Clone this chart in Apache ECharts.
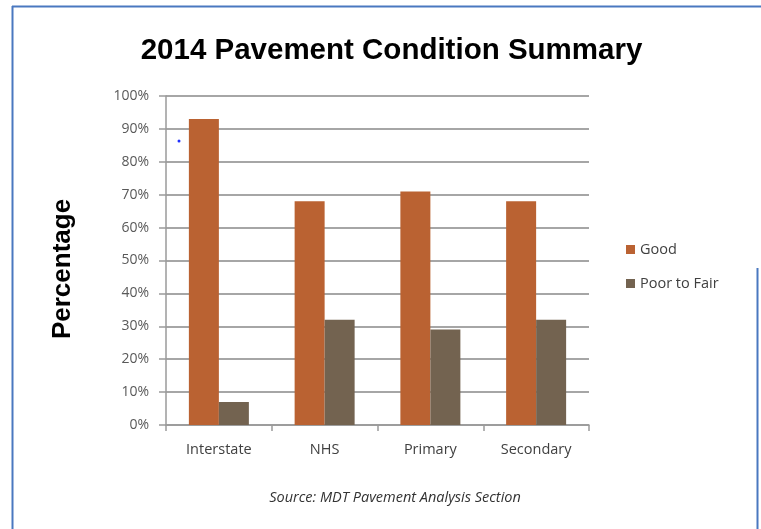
<!DOCTYPE html>
<html>
<head>
<meta charset="utf-8">
<script src="https://cdn.jsdelivr.net/npm/echarts@6/dist/echarts.min.js"></script>
<style>html,body{margin:0;padding:0;background:#fff}#c{width:761px;height:529px}</style>
</head>
<body>
<div id="c"></div>
<script>
var categories = ['Interstate', 'NHS', 'Primary', 'Secondary'];
var goodValues = [93, 68, 71, 68];
var poorValues = [7, 32, 29, 32];
var seriesNames = ['Good', 'Poor to Fair'];
var titleText = '2014 Pavement Condition Summary';
var yAxisTitle = 'Percentage';
var sourceText = 'Source: MDT Pavement Analysis Section';

var chart = echarts.init(document.getElementById('c'), null, {renderer: 'canvas'});
chart.setOption({
  backgroundColor: '#ffffff',
  animation: false,
  legend: {
    orient: 'vertical', left: 626, top: 242, padding: 0,
    itemWidth: 9, itemHeight: 9, itemGap: 19,
    icon: 'rect',
    textStyle: {fontFamily: 'Open Sans', fontSize: 14.5, color: '#404040'},
    data: seriesNames
  },
  grid: {left: 166, right: 172, top: 96, bottom: 104, containLabel: false},
  xAxis: {
    type: 'category', data: categories,
    axisLine: {lineStyle: {color: '#9a9a9a', width: 1.5}},
    axisTick: {show: true, length: 6, lineStyle: {color: '#9a9a9a', width: 1.5}},
    axisLabel: {fontFamily: 'Open Sans', fontSize: 14.5, color: '#404040', margin: 17}
  },
  yAxis: {
    type: 'value', min: 0, max: 100, interval: 10,
    axisLine: {show: true, lineStyle: {color: '#9a9a9a', width: 1.5}},
    axisTick: {show: true, inside: false, length: 7, lineStyle: {color: '#9a9a9a', width: 1.5}},
    axisLabel: {formatter: '{value}%', fontFamily: 'Open Sans', fontSize: 14, color: '#595959', margin: 17},
    splitLine: {show: true, lineStyle: {color: '#a6a6a6', width: 2}}
  },
  series: [
    {name: seriesNames[0], type: 'bar', data: goodValues, barWidth: 30, barGap: '0%',
     itemStyle: {color: '#BA6232'}},
    {name: seriesNames[1], type: 'bar', data: poorValues, barWidth: 30, barGap: '0%',
     itemStyle: {color: '#736350'}}
  ],
  graphic: [
    {type: 'line', shape: {x1: 12.5, y1: 6, x2: 12.5, y2: 529}, style: {stroke: '#4a78c0', lineWidth: 2}},
    {type: 'line', shape: {x1: 12, y1: 6.5, x2: 761, y2: 6.5}, style: {stroke: '#4a78c0', lineWidth: 2}},
    {type: 'line', shape: {x1: 757.5, y1: 268, x2: 757.5, y2: 529}, style: {stroke: '#4a78c0', lineWidth: 2}},
    {type: 'circle', shape: {cx: 179, cy: 141, r: 1.5}, style: {fill: '#2030ff'}},
    {type: 'text', x: 391.5, y: 51, style: {text: titleText, align: 'center', verticalAlign: 'middle',
      fontFamily: 'Liberation Sans', fontWeight: 'bold', fontSize: 29.5, fill: '#000'}},
    {type: 'text', x: 63, y: 269, rotation: Math.PI / 2, style: {text: yAxisTitle, align: 'center', verticalAlign: 'middle',
      fontFamily: 'Liberation Sans', fontWeight: 'bold', fontSize: 26, fill: '#000'}},
    {type: 'text', x: 395, y: 498, style: {text: sourceText, align: 'center', verticalAlign: 'middle',
      fontFamily: 'Open Sans', fontStyle: 'italic', fontSize: 14.5, fill: '#333'}}
  ]
});
</script>
</body>
</html>
